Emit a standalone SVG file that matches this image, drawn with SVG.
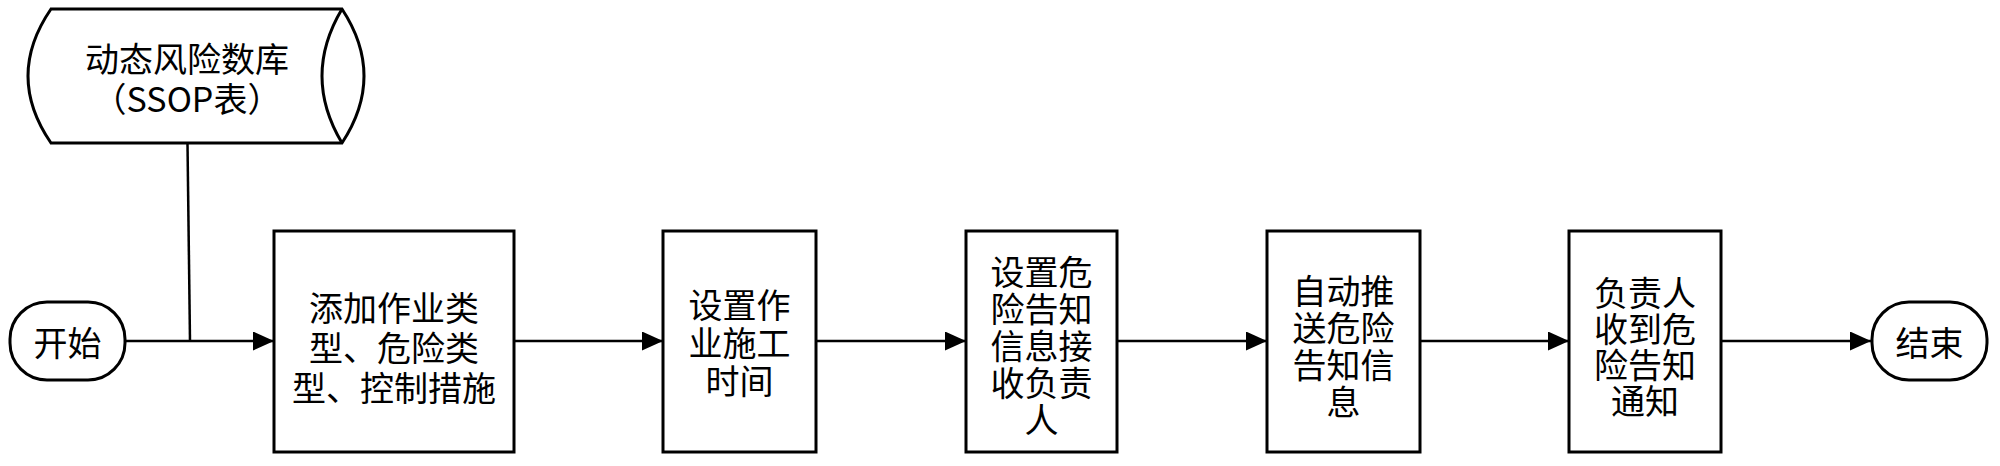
<svg xmlns="http://www.w3.org/2000/svg" width="2000" height="466" viewBox="0 0 2000 466">
<style>
.shape{fill:#fff;stroke:#000;stroke-width:3}
.conn{fill:none;stroke:#000;stroke-width:2.5}
text{font-family:"Noto Sans CJK SC","Noto Sans",sans-serif;font-size:34px;fill:#000;text-anchor:middle;dominant-baseline:central}
</style>
<defs>
<marker id="arrow" markerUnits="userSpaceOnUse" markerWidth="22" markerHeight="20" refX="21" refY="9.5" orient="auto">
<path d="M0,0 L21,9.5 L0,19 Z" fill="#000"/>
</marker>
</defs>
<g id="connectors">
<path class="conn" d="M187.5,144 L190,341"/>
<path class="conn" d="M125,341 L274,341" marker-end="url(#arrow)"/>
<path class="conn" d="M514,341 L663,341" marker-end="url(#arrow)"/>
<path class="conn" d="M816,341 L966,341" marker-end="url(#arrow)"/>
<path class="conn" d="M1117,341 L1267,341" marker-end="url(#arrow)"/>
<path class="conn" d="M1420,341 L1569,341" marker-end="url(#arrow)"/>
<path class="conn" d="M1721,341 L1871,341" marker-end="url(#arrow)"/>
</g>
<g id="database">
<path class="shape" d="M51,9 L342,9 Q386,76 342,143 L51,143 Q5,76 51,9 Z"/>
<path class="shape" d="M342,9 Q302,76 342,143" fill="none"/>
<text x="187" y="57"><tspan x="187" y="57">动态风险数库</tspan><tspan x="187" y="97">（SSOP表）</tspan></text>
</g>
<g id="start">
<rect class="shape" x="10" y="302" width="115" height="78" rx="37" ry="37"/>
<text x="67.5" y="341">开始</text>
</g>
<g id="step1">
<rect class="shape" x="274" y="231" width="240" height="221"/>
<text x="394" y="306"><tspan x="394" y="306">添加作业类</tspan><tspan x="394" y="346">型、危险类</tspan><tspan x="394" y="386">型、控制措施</tspan></text>
</g>
<g id="step2">
<rect class="shape" x="663" y="231" width="153" height="221"/>
<text x="739.5" y="303"><tspan x="739.5" y="303">设置作</tspan><tspan x="739.5" y="341">业施工</tspan><tspan x="739.5" y="379">时间</tspan></text>
</g>
<g id="step3">
<rect class="shape" x="966" y="231" width="151" height="221"/>
<text x="1041.5" y="270"><tspan x="1041.5" y="270">设置危</tspan><tspan x="1041.5" y="307">险告知</tspan><tspan x="1041.5" y="344">信息接</tspan><tspan x="1041.5" y="381">收负责</tspan><tspan x="1041.5" y="418">人</tspan></text>
</g>
<g id="step4">
<rect class="shape" x="1267" y="231" width="153" height="221"/>
<text x="1343.5" y="289"><tspan x="1343.5" y="289">自动推</tspan><tspan x="1343.5" y="326">送危险</tspan><tspan x="1343.5" y="363">告知信</tspan><tspan x="1343.5" y="400">息</tspan></text>
</g>
<g id="step5">
<rect class="shape" x="1569" y="231" width="152" height="221"/>
<text x="1645" y="291"><tspan x="1645" y="291">负责人</tspan><tspan x="1645" y="327">收到危</tspan><tspan x="1645" y="363">险告知</tspan><tspan x="1645" y="399">通知</tspan></text>
</g>
<g id="end">
<rect class="shape" x="1872" y="302" width="115" height="78" rx="37" ry="37"/>
<text x="1929.5" y="341">结束</text>
</g>
</svg>
